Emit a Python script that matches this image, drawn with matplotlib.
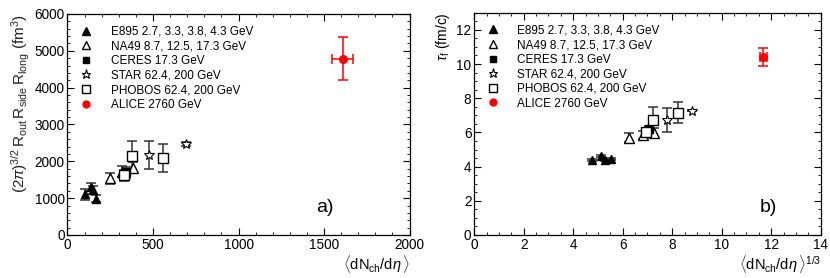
import matplotlib
matplotlib.use("Agg")
import matplotlib.pyplot as plt
from matplotlib.ticker import MultipleLocator

plt.rcParams['font.family'] = ['Liberation Sans', 'DejaVu Sans']
plt.rcParams['mathtext.fontset'] = 'custom'
plt.rcParams['mathtext.rm'] = 'Liberation Sans'
plt.rcParams['mathtext.it'] = 'Liberation Sans:italic'
plt.rcParams['mathtext.bf'] = 'Liberation Sans:bold'

# ---- panel a) data: <dNch/deta> vs HBT volume (fm^3)
e895_a_x = [105, 135, 150, 168]
e895_a_y = [1100, 1300, 1220, 990]
e895_a_err = [150, 100, 100, 90]
na49_a_x = [247, 320, 383]
na49_a_y = [1540, 1720, 1820]
na49_a_err = [150, 150, 150]
ceres_a_x = [345]
ceres_a_y = [1700]
ceres_a_err = [150]
star_a_x = [477, 695]
star_a_y = [2170, 2470]
star_a_err = [380, 60]
phobos_a_x = [332, 375, 558]
phobos_a_y = [1620, 2150, 2090]
phobos_a_err = [150, 390, 390]
alice_a_x = [1609]
alice_a_y = [4790]
alice_a_xerr = [61]
alice_a_yerr = [580]

# ---- panel b) data: <dNch/deta>^(1/3) vs tau_f (fm/c)
e895_b_x = [4.74, 5.11, 5.28, 5.51]
e895_b_y = [4.39, 4.62, 4.39, 4.43]
e895_b_err = [0.05, 0.05, 0.05, 0.05]
na49_b_x = [6.27, 6.83, 7.28]
na49_b_y = [5.70, 5.85, 5.99]
na49_b_err = [0.25, 0.25, 0.25]
ceres_b_x = [7.05]
ceres_b_y = [6.20]
ceres_b_err = [0.2]
star_b_x = [7.78, 8.79]
star_b_y = [6.73, 7.26]
star_b_err = [0.68, 0.0]
phobos_b_x = [6.95, 7.21, 8.25]
phobos_b_y = [6.05, 6.70, 7.15]
phobos_b_err = [0.2, 0.8, 0.6]
alice_b_x = [11.68]
alice_b_y = [10.42]
alice_b_xerr = [0.15]
alice_b_yerr = [0.52]

labels = ["E895 2.7, 3.3, 3.8, 4.3 GeV", "NA49 8.7, 12.5, 17.3 GeV",
          "CERES 17.3 GeV", "STAR 62.4, 200 GeV", "PHOBOS 62.4, 200 GeV",
          "ALICE 2760 GeV"]

fig = plt.figure(figsize=(8.3, 2.78), dpi=100)
axa = fig.add_axes([0.0813, 0.1547, 0.4121, 0.795])
axb = fig.add_axes([0.5714, 0.1547, 0.4174, 0.7995])

ecol = '#333333'
def draw(ax, data):
    handles = []
    styles = [dict(marker='^', mfc='black', mec='black', ms=6),
              dict(marker='^', mfc='white', mec='black', ms=6.5),
              dict(marker='s', mfc='black', mec='black', ms=5.5),
              dict(marker='*', mfc='white', mec='black', ms=7.5, mew=0.8),
              dict(marker='s', mfc='white', mec='black', ms=6.5),
              dict(marker='o', mfc='red', mec='red', ms=5.5)]
    for (x, y, ye, xe), st, lab in zip(data, styles, labels):
        col = 'red' if st['mfc'] == 'red' else ecol
        ax.errorbar(x, y, yerr=ye, xerr=xe, fmt='none', ecolor=col,
                    elinewidth=1.1, capsize=3.5, capthick=1.1, zorder=2)
        p, = ax.plot(x, y, linestyle='none', label=lab, zorder=3,
                     mew=st.pop('mew', 1.0), **st)
        handles.append(p)
    return handles

ha = draw(axa, [(e895_a_x, e895_a_y, e895_a_err, None),
                (na49_a_x, na49_a_y, na49_a_err, None),
                (ceres_a_x, ceres_a_y, ceres_a_err, None),
                (star_a_x, star_a_y, star_a_err, None),
                (phobos_a_x, phobos_a_y, phobos_a_err, None),
                (alice_a_x, alice_a_y, alice_a_yerr, alice_a_xerr)])
hb = draw(axb, [(e895_b_x, e895_b_y, e895_b_err, None),
                (na49_b_x, na49_b_y, na49_b_err, None),
                (ceres_b_x, ceres_b_y, ceres_b_err, None),
                (star_b_x, star_b_y, star_b_err, None),
                (phobos_b_x, phobos_b_y, phobos_b_err, None),
                (alice_b_x, alice_b_y, alice_b_yerr, alice_b_xerr)])

for ax, h in ((axa, ha), (axb, hb)):
    ax.legend(handles=h, loc='upper left', frameon=False, fontsize=8.5,
              labelspacing=0.22, handlelength=1.2, handletextpad=1.45,
              borderaxespad=0.55, borderpad=0.45, numpoints=1,
              markerscale=0.9)
    ax.tick_params(which='both', direction='in', top=True, right=True,
                   labelsize=9.8, pad=2)
    ax.tick_params(which='major', length=5)
    ax.tick_params(which='minor', length=2.5)
    for s in ax.spines.values():
        s.set_linewidth(0.9)

axa.set_xlim(0, 2000)
axa.set_ylim(0, 6000)
axa.xaxis.set_major_locator(MultipleLocator(500))
axa.xaxis.set_minor_locator(MultipleLocator(100))
axa.yaxis.set_major_locator(MultipleLocator(1000))
axa.yaxis.set_minor_locator(MultipleLocator(200))
axa.set_xlabel(r'$\langle {\rm dN}_{\rm ch}/{\rm d}\eta\,\rangle$', fontsize=10.5,
               loc='right', labelpad=1)
axa.set_ylabel(r'$(2\pi)^{3/2}\,{\rm R}_{\rm out}\,{\rm R}_{\rm side}\,{\rm R}_{\rm long}\ ({\rm fm}^3)$',
               fontsize=11, loc='top', labelpad=2, color='#222222')
axa.text(0.727, 0.104, 'a)', transform=axa.transAxes, fontsize=14)

axb.set_xlim(0, 14)
axb.set_ylim(0, 13)
axb.xaxis.set_major_locator(MultipleLocator(2))
axb.xaxis.set_minor_locator(MultipleLocator(0.5))
axb.yaxis.set_major_locator(MultipleLocator(2))
axb.yaxis.set_minor_locator(MultipleLocator(0.5))
axb.set_xlabel(r'$\langle {\rm dN}_{\rm ch}/{\rm d}\eta\,\rangle^{1/3}$', fontsize=10.5,
               loc='right', labelpad=1)
axb.set_ylabel(r'$\tau_{\rm f}\ ({\rm fm/c})$', fontsize=10, loc='top', labelpad=3)
axb.text(0.825, 0.104, 'b)', transform=axb.transAxes, fontsize=14)

fig.savefig('out.png', dpi=100)
